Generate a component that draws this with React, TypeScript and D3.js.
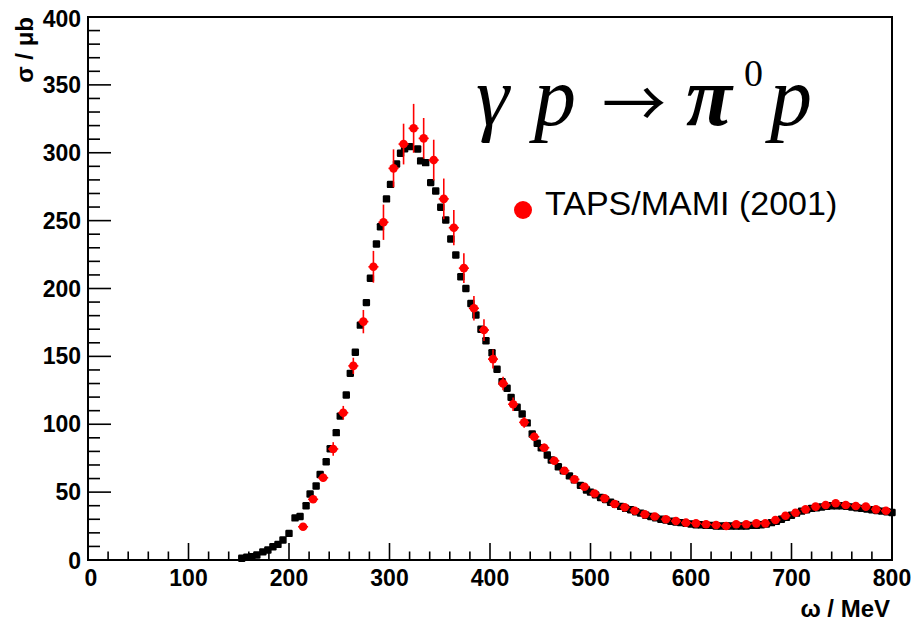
import React from "react";
import * as d3 from "d3";

// Model / reference points (black)
const blackE = [153,158,163,168,174,179,184,189,194,200,206,211,217,221,227,231,237,241,247,251,257,261,266,271,277,281,287,291,297,301,307,311,315,320,328,331,336,341,346,351,356,361,366,371,376,381,386,391,396,402,407,412,417,421,427,432,437,442,447,451,457,461,468,473,479,484,490,496,500,505,510,515,520,525,530,535,540,545,550,555,560,565,570,575,580,585,590,595,600,605,610,615,620,625,630,635,640,645,650,655,660,665,670,675,680,685,690,695,700,705,710,715,720,725,730,735,740,745,750,755,760,765,770,775,780,785,790,795,800];
const blackS = [1.3,2,2.5,3.7,6,7.4,9.8,11.5,14.7,19.6,31,32,40,48.6,54.5,63,72.4,82,93.8,106,121.5,137.5,153,173,189.6,207.5,232.8,245.5,266,276.7,291.7,299.6,303,304.5,302.8,294,292.7,278,271.8,259.8,250.5,236.5,224.7,208.7,200,189,180.5,170,161.5,152.7,140.5,131.4,126.5,119.8,112.5,107.5,101,92.8,86,82.7,77.3,73.7,68.7,65.8,62,59,55,51.6,50,48,46,44.5,42.5,41,39.5,38,37,35.5,34.5,33,32,31,30,29.5,28.5,28,27.5,27,26.5,26,26,25.5,25.5,25,25,25,25,25,25,25,25.5,25.5,26,26.5,27.5,28.5,30,31.5,33,34.5,36,37,38,38.5,39,39.5,40,40,40,39.5,39,38.5,38,37.5,37,36.5,36,35.5,35];

// TAPS/MAMI (2001) data (red)
const tapsE = [214,224,234,244,254,264,274,284,294,304,314,324,334,344,354,364,374,384,394,403,413,423,434,444,454,464,474,484,494,504,514,524,534,544,554,564,575,585,595,605,615,625,635,645,655,665,674,684,694,704,714,724,734,744,754,764,774,784,794];
const tapsS = [24.5,44.7,60.6,81.8,108.5,143,175.6,216,248.8,288.5,306.4,318,310.6,294.6,266,244.8,215,185.4,169.4,148,130,114.7,101.4,90.8,82.7,73.1,65.8,59.4,54,49,45.4,41.3,38.8,36.3,33.6,32,30,28.7,27.5,27,26.3,25.8,25,26.3,26.3,27,27,29.5,32.6,34.8,37.3,39.3,40.5,41.8,40.5,39.8,39.3,37.3,36.3];
const tapsErr = [1.5,2,3,5,5,6,8.6,11.7,13,14,15,18,15,15,15,13,11,9,8,7,5,5,4,3,3,2.5,2,2,1.5,1.5,1,1,1,1,1,1,1,1,1,1,1,1,1,1,1,1,1,1,1,1,1,1,1,1,1,1,1,1,1];

const xTicks = [0,100,200,300,400,500,600,700,800];
const yTicks = [0,50,100,150,200,250,300,350,400];
const xTitle = "ω / MeV";
const yTitle = "σ / μb";
const legendLabel = "TAPS/MAMI (2001)";

export default function App() {
  const x = d3.scaleLinear().domain([0, 800]).range([88, 892]);
  const y = d3.scaleLinear().domain([0, 400]).range([560, 17]);
  const xMinor = d3.range(0, 801, 20).filter((v) => v % 100 !== 0);
  const yMinor = d3.range(0, 401, 10).filter((v) => v % 50 !== 0);
  const sans = "'Liberation Sans', Arial, sans-serif";
  const serif = "'Liberation Serif', 'Times New Roman', serif";

  return (
    <svg width={914} height={621} style={{ position: "absolute", left: 0, top: 0, background: "#fff" }}>
      <rect x={0} y={0} width={914} height={621} fill="#fff" />
      {/* frame */}
      <rect x={x(0)} y={y(400)} width={x(800) - x(0)} height={y(0) - y(400)} fill="none" stroke="#000" strokeWidth={2} />
      {/* x ticks */}
      {xTicks.map((v) => (
        <line key={"xt" + v} x1={x(v)} x2={x(v)} y1={y(0)} y2={y(0) - 17} stroke="#000" strokeWidth={1.6} />
      ))}
      {xMinor.map((v) => (
        <line key={"xm" + v} x1={x(v)} x2={x(v)} y1={y(0)} y2={y(0) - 8.5} stroke="#000" strokeWidth={1.6} />
      ))}
      {yTicks.map((v) => (
        <line key={"yt" + v} x1={x(0)} x2={x(0) + 23} y1={y(v)} y2={y(v)} stroke="#000" strokeWidth={1.6} />
      ))}
      {yMinor.map((v) => (
        <line key={"ym" + v} x1={x(0)} x2={x(0) + 12} y1={y(v)} y2={y(v)} stroke="#000" strokeWidth={1.6} />
      ))}
      {/* tick labels */}
      {xTicks.map((v) => (
        <text key={"xl" + v} x={x(v) + (v === 0 ? 3 : 0)} y={y(0) + 26} textAnchor="middle" fontFamily={sans} fontWeight="bold" fontSize={23}>
          {v}
        </text>
      ))}
      {yTicks.map((v) => (
        <text key={"yl" + v} x={x(0) - 7} y={y(v) + (v === 400 ? 10 : v === 0 ? 9 : 8)} textAnchor="end" fontFamily={sans} fontWeight="bold" fontSize={23}>
          {v}
        </text>
      ))}
      {/* axis titles */}
      <text x={890} y={617} textAnchor="end" fontFamily={sans} fontWeight="bold" fontSize={24}>
        {xTitle}
      </text>
      <text transform="translate(33,17) rotate(-90)" textAnchor="end" fontFamily={sans} fontWeight="bold" fontSize={24}>
        {yTitle}
      </text>
      {/* black points */}
      {blackE.map((e, i) => (
        <g key={"b" + i}>
          <line x1={x(e - 2.5)} x2={x(e + 2.5)} y1={y(blackS[i])} y2={y(blackS[i])} stroke="#000" strokeWidth={1.5} />
          <rect x={x(e) - 3.7} y={y(blackS[i]) - 3.7} width={7.4} height={7.4} rx={1.2} fill="#000" />
        </g>
      ))}
      {/* red points */}
      {tapsE.map((e, i) => (
        <g key={"r" + i}>
          <line x1={x(e - 5)} x2={x(e + 5)} y1={y(tapsS[i])} y2={y(tapsS[i])} stroke="#ff0000" strokeWidth={1.6} />
          <line x1={x(e)} x2={x(e)} y1={y(tapsS[i] - tapsErr[i])} y2={y(tapsS[i] + tapsErr[i])} stroke="#ff0000" strokeWidth={1.6} />
          <circle cx={x(e)} cy={y(tapsS[i])} r={4.3} fill="#ff0000" />
        </g>
      ))}
      {/* reaction label */}
      <g fontFamily={serif} fill="#000">
        <text x={476} y={125} fontSize={84} fontStyle="italic">γ</text>
        <text x={534} y={125} fontSize={84} fontStyle="italic">p</text>
        <text x={602} y={127} fontSize={64} fontFamily="'Noto Sans CJK JP', sans-serif">→</text>
        <text x={686} y={125} fontSize={84} fontStyle="italic" fontWeight="bold">π</text>
        <text x={744} y={86} fontSize={38}>0</text>
        <text x={770} y={125} fontSize={84} fontStyle="italic">p</text>
      </g>
      {/* legend */}
      <circle cx={523} cy={210} r={9} fill="#ff0000" />
      <text x={545} y={215} fontFamily={sans} fontSize={34}>
        {legendLabel}
      </text>
    </svg>
  );
}
